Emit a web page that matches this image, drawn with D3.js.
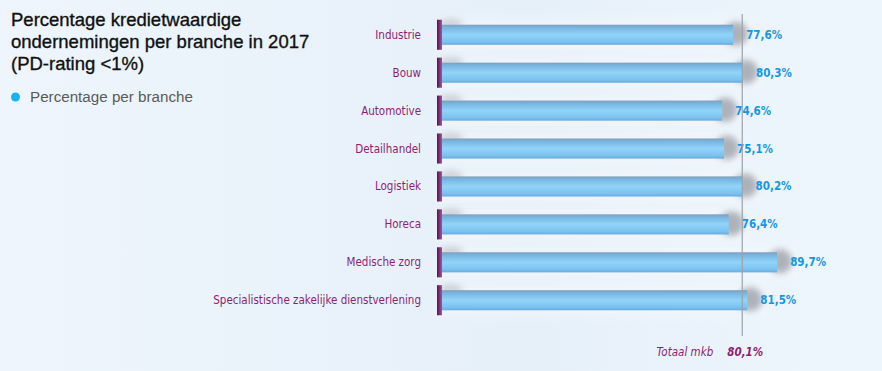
<!DOCTYPE html>
<html>
<head>
<meta charset="utf-8">
<script src="https://cdn.jsdelivr.net/npm/d3@7"></script>
<style>
  html, body { margin: 0; padding: 0; }
  body { width: 882px; height: 371px; overflow: hidden; }
</style>
</head>
<body>
<svg id="chart"></svg>
<script>
// data
const branches = ['Industrie', 'Bouw', 'Automotive', 'Detailhandel', 'Logistiek', 'Horeca', 'Medische zorg', 'Specialistische zakelijke dienstverlening'];
const values = [77.6, 80.3, 74.6, 75.1, 80.2, 76.4, 89.7, 81.5];
const totaal = 80.1;
const titleLines = ['Percentage kredietwaardige', 'ondernemingen per branche in 2017', '(PD-rating <1%)'];
const legendLabel = 'Percentage per branche';

const width = 882;
const height = 371;
const fmt = v => d3.format('.1f')(v).replace('.', ',') + '%';
const narrow = 'DejaVu Sans Condensed, Liberation Sans Narrow, Arial, sans-serif';

const svg = d3.select('#chart').attr('width', width).attr('height', height);
const defs = svg.append('defs');

const bg = defs.append('linearGradient').attr('id', 'bg').attr('x1', 0).attr('x2', 1).attr('y1', 0).attr('y2', 0);
bg.append('stop').attr('offset', 0).attr('stop-color', '#eef5fc');
bg.append('stop').attr('offset', 0.6).attr('stop-color', '#e6f0f9');
bg.append('stop').attr('offset', 1).attr('stop-color', '#eef6fd');

const barGrad = defs.append('linearGradient').attr('id', 'bar').attr('x1', 0).attr('x2', 0).attr('y1', 0).attr('y2', 1);
barGrad.append('stop').attr('offset', 0).attr('stop-color', '#7d9fbd');
barGrad.append('stop').attr('offset', 0.15).attr('stop-color', '#78b6e2');
barGrad.append('stop').attr('offset', 0.5).attr('stop-color', '#92d4f8');
barGrad.append('stop').attr('offset', 0.85).attr('stop-color', '#7cc2f0');
barGrad.append('stop').attr('offset', 1).attr('stop-color', '#68aadc');

const capGrad = defs.append('linearGradient').attr('id', 'cap').attr('x1', 0).attr('x2', 1).attr('y1', 0).attr('y2', 0);
capGrad.append('stop').attr('offset', 0).attr('stop-color', '#5c0e55');
capGrad.append('stop').attr('offset', 1).attr('stop-color', '#a2559a');

defs.append('filter').attr('id', 'blur').attr('x', '-50%').attr('y', '-50%').attr('width', '200%').attr('height', '200%')
  .append('feGaussianBlur').attr('stdDeviation', 3);

svg.append('rect').attr('width', width).attr('height', height).attr('fill', 'url(#bg)');

// title + legend
svg.append('g').selectAll('text')
  .data(titleLines)
  .enter()
  .append('text')
  .attr('x', 11)
  .attr('y', (d, i) => 26 + i * 22)
  .style('font-family', 'Liberation Sans, Arial, sans-serif')
  .style('font-size', '18.5px')
  .style('fill', '#111')
  .style('stroke', '#111')
  .style('stroke-width', 0.35)
  .text(d => d);

svg.append('circle').attr('cx', 15.5).attr('cy', 97).attr('r', 4.5).attr('fill', '#17b2f0');
svg.append('text')
  .attr('x', 30).attr('y', 102)
  .style('font-family', 'Liberation Sans, Arial, sans-serif')
  .style('font-size', '15.2px')
  .style('fill', '#5a5a5a')
  .text(legendLabel);

// scales
const x = d3.scaleLinear().domain([0, 100]).range([451, 814.6]);
const y = d3.scaleBand().domain(branches).range([16, 319]).paddingInner(0.47).paddingOuter(0.23);
const capX = 437, capW = 5;

const rows = svg.append('g').selectAll('g')
  .data(branches.map((b, i) => ({ branche: b, value: values[i] })))
  .enter()
  .append('g')
  .attr('transform', d => `translate(0,${y(d.branche)})`);

const bh = y.bandwidth();

// soft light band behind each bar
rows.append('rect')
  .attr('x', capX).attr('y', -6)
  .attr('width', d => x(d.value) - capX + 20).attr('height', bh + 12)
  .attr('fill', '#f4f8fc').attr('opacity', 0.6)
  .attr('filter', 'url(#blur)');

// shadow behind the end of the bar
rows.append('ellipse')
  .attr('cx', d => x(d.value) + 3).attr('cy', bh / 2 - 1)
  .attr('rx', 12).attr('ry', bh / 2 + 2)
  .attr('fill', '#a2a7ae').attr('opacity', 0.85)
  .attr('filter', 'url(#blur)');

// shadow at the start
rows.append('ellipse')
  .attr('cx', capX + 14).attr('cy', -1)
  .attr('rx', 12).attr('ry', 5)
  .attr('fill', '#b8bcc2').attr('opacity', 0.6)
  .attr('filter', 'url(#blur)');

rows.append('rect')
  .attr('x', capX + capW).attr('y', 0)
  .attr('width', d => x(d.value) - capX - capW).attr('height', bh)
  .attr('fill', 'url(#bar)');

rows.append('rect')
  .attr('x', capX).attr('y', -5)
  .attr('width', capW).attr('height', bh + 10)
  .attr('fill', 'url(#cap)');

rows.append('text')
  .attr('x', capX - 16).attr('y', bh / 2).attr('dy', '0.35em')
  .attr('text-anchor', 'end')
  .style('font-family', narrow)
  .style('font-size', '11.5px')
  .style('fill', '#8c1f73')
  .text(d => d.branche);

rows.append('text')
  .attr('x', d => x(d.value) + 13).attr('y', bh / 2).attr('dy', '0.35em')
  .style('font-family', narrow)
  .style('font-weight', 'bold')
  .style('font-size', '11.5px')
  .style('fill', '#1597e0')
  .text(d => fmt(d.value));

// total line
svg.append('line')
  .attr('x1', x(totaal)).attr('x2', x(totaal))
  .attr('y1', 14).attr('y2', 336)
  .attr('stroke', '#9aa3ad').attr('stroke-width', 1.2);

svg.append('text')
  .attr('x', x(totaal) - 29).attr('y', 356)
  .attr('text-anchor', 'end')
  .style('font-family', narrow)
  .style('font-style', 'italic')
  .style('font-size', '11.5px')
  .style('fill', '#8c1f73')
  .text('Totaal mkb');

svg.append('text')
  .attr('x', x(totaal) - 15).attr('y', 356)
  .style('font-family', narrow)
  .style('font-style', 'italic')
  .style('font-weight', 'bold')
  .style('font-size', '11.5px')
  .style('fill', '#8c1f73')
  .text(fmt(totaal));
</script>
</body>
</html>
